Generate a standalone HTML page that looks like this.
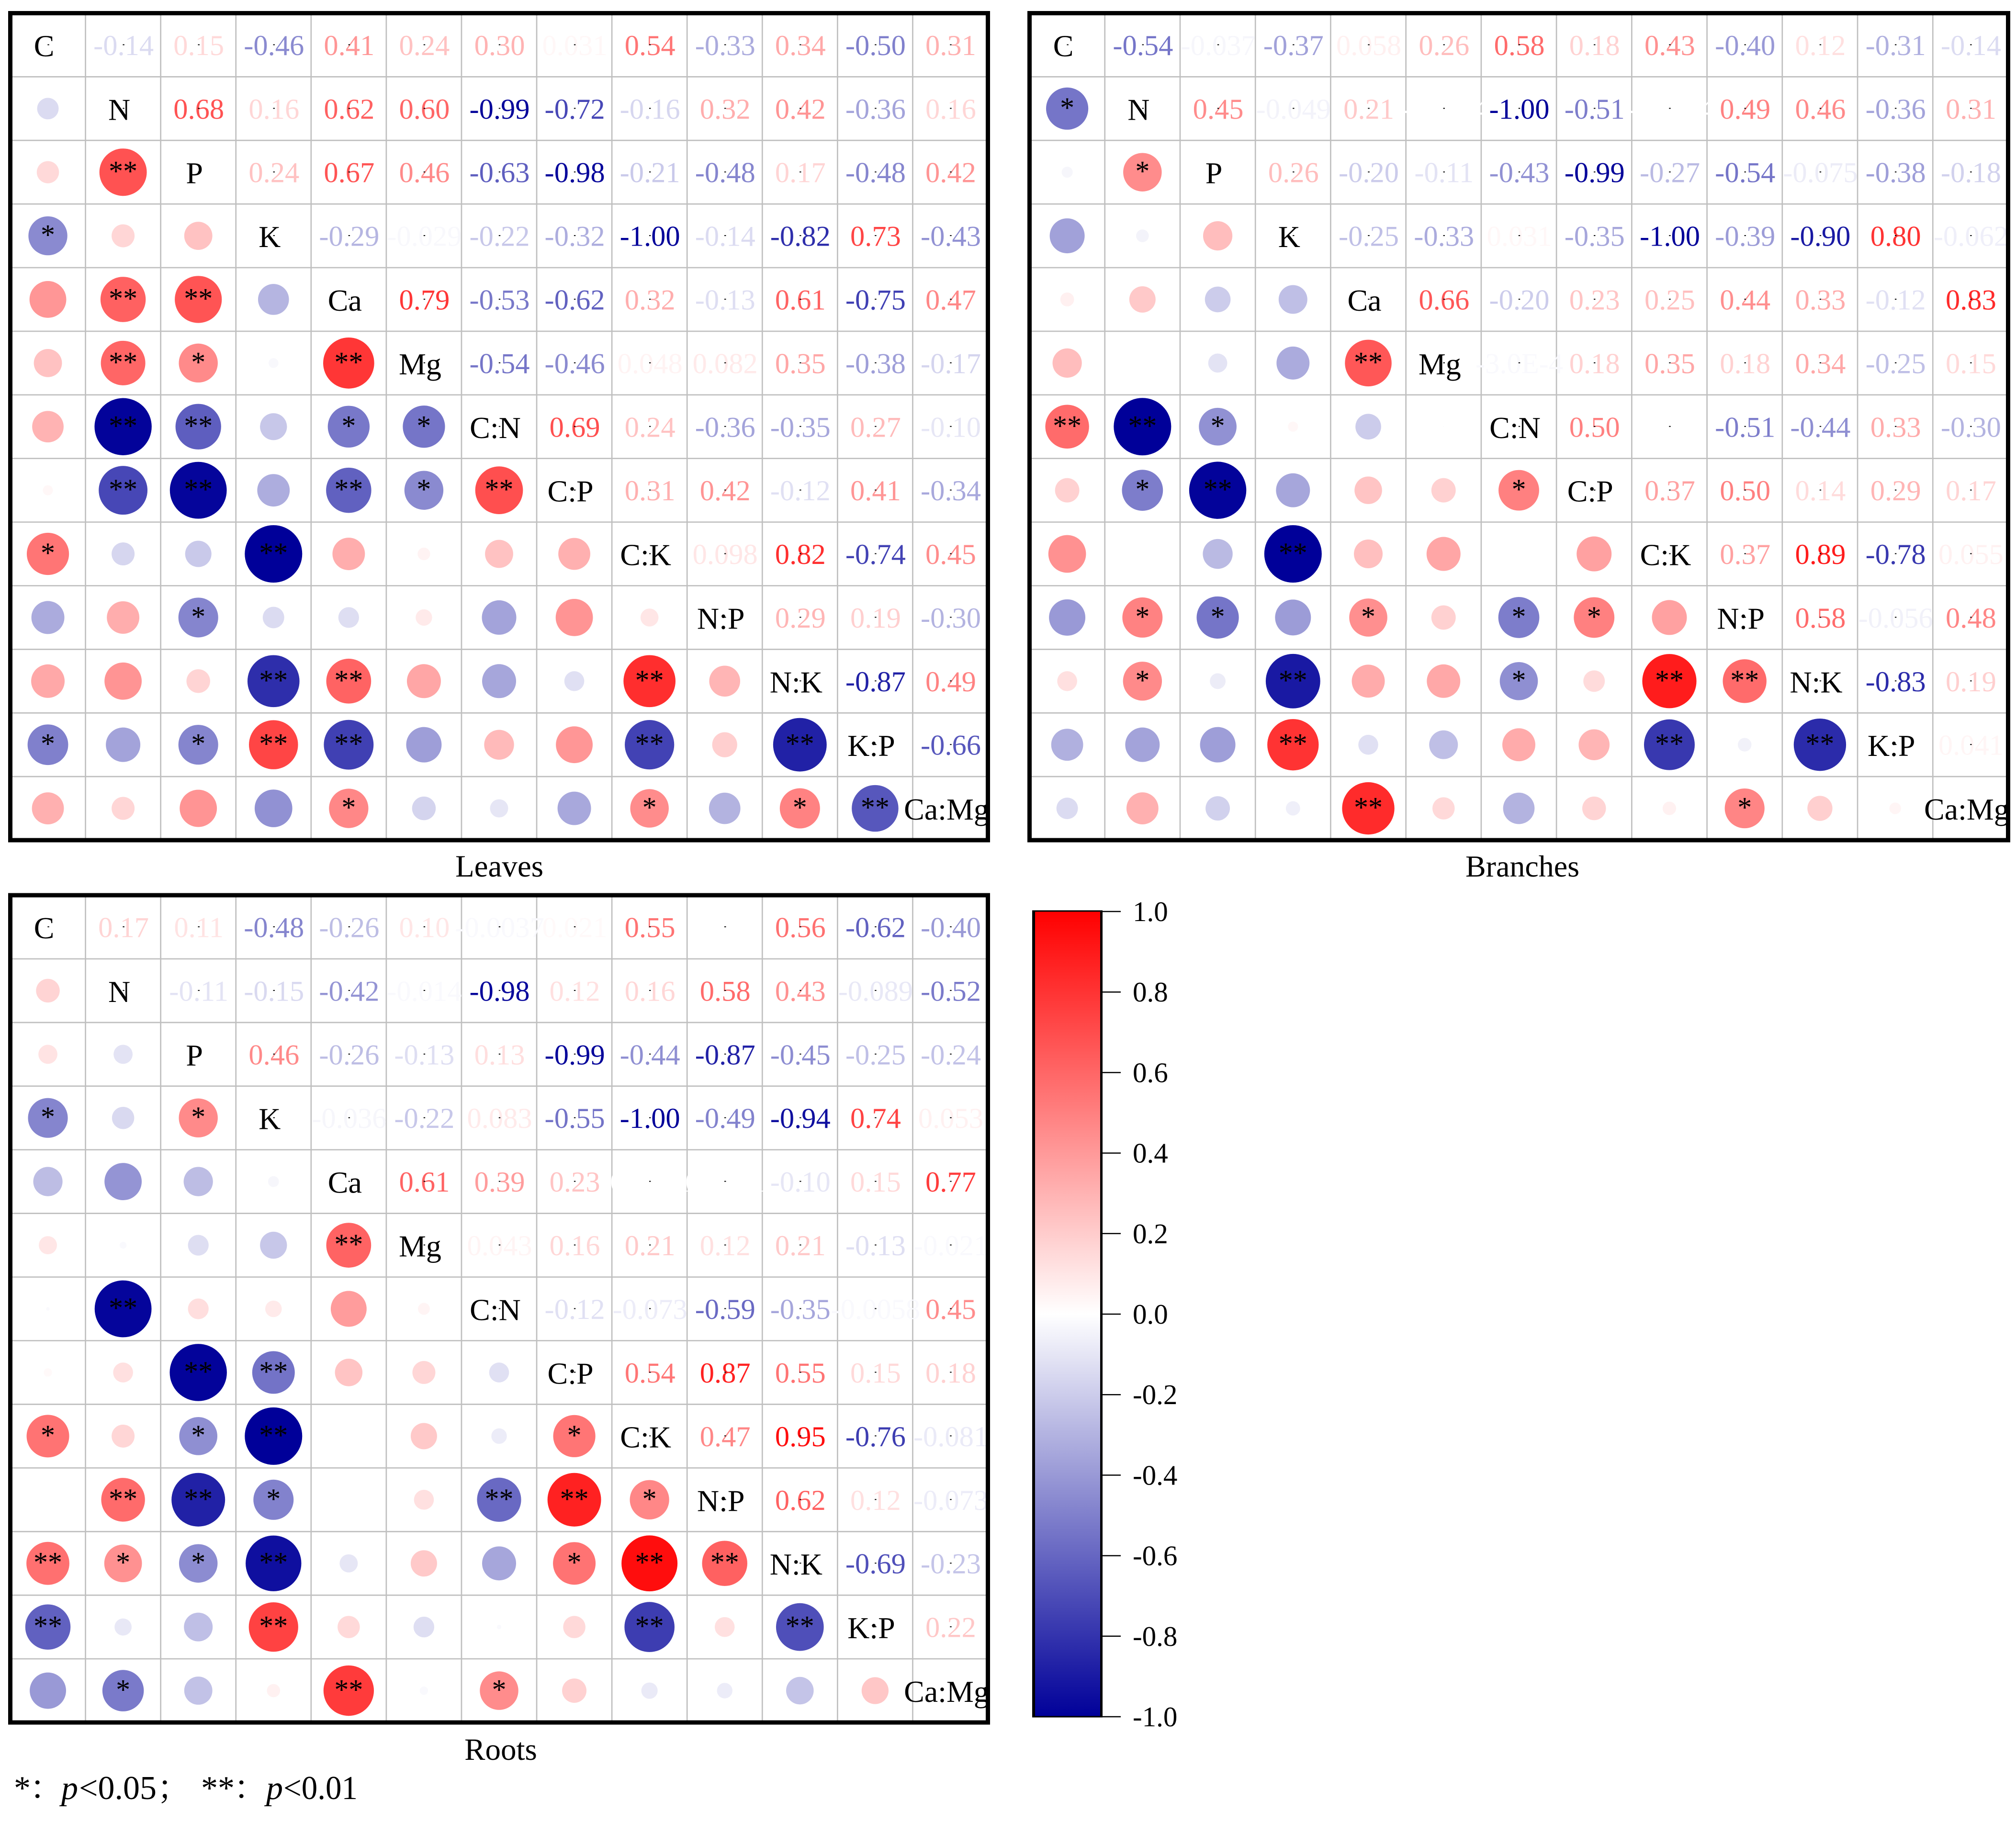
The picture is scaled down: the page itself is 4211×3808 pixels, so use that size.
<!DOCTYPE html>
<html lang="en">
<head>
<meta charset="utf-8">
<title>Correlation matrices of leaves, branches and roots</title>
<style>
html,body{margin:0;padding:0;background:#fff;}
svg{display:block;font-family:"Liberation Serif","Noto Serif CJK SC",serif;}
</style>
</head>
<body>
<svg id="chart" xmlns="http://www.w3.org/2000/svg" width="4211" height="3808" viewBox="0 0 4211 3808">
  <defs>
    <linearGradient id="cbGrad" x1="0" y1="0" x2="0" y2="1"></linearGradient>
  </defs>
  <rect x="0" y="0" width="4211" height="3808" fill="#fff"/>
  <g id="leaves-panel"></g>
  <g id="branches-panel"></g>
  <g id="roots-panel"></g>
  <g id="colorbar"></g>
  <text x="1043" y="1831" font-size="65" text-anchor="middle" fill="#000">Leaves</text>
  <text x="3180" y="1831" font-size="64" text-anchor="middle" fill="#000">Branches</text>
  <text x="1046" y="3676" font-size="65" text-anchor="middle" fill="#000">Roots</text>
  <g font-size="70" fill="#000">
    <text x="29" y="3758">*</text>
    <text x="62" y="3758">：</text>
    <text x="128" y="3758" font-style="italic">p</text>
    <text x="165" y="3758" textLength="162" lengthAdjust="spacingAndGlyphs">&lt;0.05</text>
    <text x="328" y="3758">；</text>
    <text x="420" y="3758">**</text>
    <text x="488" y="3758">：</text>
    <text x="556" y="3758" font-style="italic">p</text>
    <text x="592" y="3758" textLength="155" lengthAdjust="spacingAndGlyphs">&lt;0.01</text>
  </g>
</svg>
<script>
// ---- Data: variable labels ----
var labels = ["C","N","P","K","Ca","Mg","C:N","C:P","C:K","N:P","N:K","K:P","Ca:Mg"];

// ---- Data: upper-triangle correlation coefficients, row by row ----
var leavesValues = [
  ["-0.14","0.15","-0.46","0.41","0.24","0.30","0.031","0.54","-0.33","0.34","-0.50","0.31"],
  ["0.68","0.16","0.62","0.60","-0.99","-0.72","-0.16","0.32","0.42","-0.36","0.16"],
  ["0.24","0.67","0.46","-0.63","-0.98","-0.21","-0.48","0.17","-0.48","0.42"],
  ["-0.29","-0.029","-0.22","-0.32","-1.00","-0.14","-0.82","0.73","-0.43"],
  ["0.79","-0.53","-0.62","0.32","-0.13","0.61","-0.75","0.47"],
  ["-0.54","-0.46","0.048","0.082","0.35","-0.38","-0.17"],
  ["0.69","0.24","-0.36","-0.35","0.27","-0.10"],
  ["0.31","0.42","-0.12","0.41","-0.34"],
  ["0.098","0.82","-0.74","0.45"],
  ["0.29","0.19","-0.30"],
  ["-0.87","0.49"],
  ["-0.66"]
];
var branchesValues = [
  ["-0.54","-0.037","-0.37","0.058","0.26","0.58","0.18","0.43","-0.40","0.12","-0.31","-0.14"],
  ["0.45","-0.049","0.21","-1.0E-4","-1.00","-0.51","-1.0E-4","0.49","0.46","-0.36","0.31"],
  ["0.26","-0.20","-0.11","-0.43","-0.99","-0.27","-0.54","-0.075","-0.38","-0.18"],
  ["-0.25","-0.33","0.031","-0.35","-1.00","-0.39","-0.90","0.80","-0.062"],
  ["0.66","-0.20","0.23","0.25","0.44","0.33","-0.12","0.83"],
  ["-3.0E-4","0.18","0.35","0.18","0.34","-0.25","0.15"],
  ["0.50","0.00","-0.51","-0.44","0.33","-0.30"],
  ["0.37","0.50","0.14","0.29","0.17"],
  ["0.37","0.89","-0.78","0.055"],
  ["0.58","-0.056","0.48"],
  ["-0.83","0.19"],
  ["0.041"]
];
var rootsValues = [
  ["0.17","0.11","-0.48","-0.26","0.10","-0.0037","0.021","0.55","0.00","0.56","-0.62","-0.40"],
  ["-0.11","-0.15","-0.42","-0.014","-0.98","0.12","0.16","0.58","0.43","-0.089","-0.52"],
  ["0.46","-0.26","-0.13","0.13","-0.99","-0.44","-0.87","-0.45","-0.25","-0.24"],
  ["-0.036","-0.22","0.083","-0.55","-1.00","-0.49","-0.94","0.74","0.053"],
  ["0.61","0.39","0.23","0.0001","0.0001","-0.10","0.15","0.77"],
  ["0.043","0.16","0.21","0.12","0.21","-0.13","-0.021"],
  ["-0.12","-0.073","-0.59","-0.35","-0.0058","0.45"],
  ["0.54","0.87","0.55","0.15","0.18"],
  ["0.47","0.95","-0.76","-0.081"],
  ["0.62","0.12","-0.073"],
  ["-0.69","-0.23"],
  ["0.22"]
];

// ---- Data: lower-triangle significance level (0 none, 1 p<0.05, 2 p<0.01), row by row ----
var leavesStars = [
  [],[0],[0,2],[1,0,0],[0,2,2,0],[0,2,1,0,2],[0,2,2,0,1,1],[0,2,2,0,2,1,2],
  [1,0,0,2,0,0,0,0],[0,0,1,0,0,0,0,0,0],[0,0,0,2,2,0,0,0,2,0],
  [1,0,1,2,2,0,0,0,2,0,2],[0,0,0,0,1,0,0,0,1,0,1,2]
];
var branchesStars = [
  [],[1],[0,1],[0,0,0],[0,0,0,0],[0,0,0,0,2],[2,2,1,0,0,0],[0,1,2,0,0,0,1],
  [0,0,0,2,0,0,0,0],[0,1,1,0,1,0,1,1,0],[0,1,0,2,0,0,1,0,2,2],
  [0,0,0,2,0,0,0,0,2,0,2],[0,0,0,0,2,0,0,0,0,1,0,0]
];
var rootsStars = [
  [],[0],[0,0],[1,0,1],[0,0,0,0],[0,0,0,0,2],[0,2,0,0,0,0],[0,0,2,2,0,0,0],
  [1,0,1,2,0,0,0,1],[0,2,2,1,0,0,2,2,1],[2,1,1,2,0,0,0,1,2,2],
  [2,0,0,2,0,0,0,0,2,0,2],[0,1,0,0,2,0,1,0,0,0,0,0]
];

// ---- Data: colour bar ticks ----
var colorbarTicks = [1.0,0.8,0.6,0.4,0.2,0.0,-0.2,-0.4,-0.6,-0.8,-1.0];

// ---- Helpers ----
var NS = "http://www.w3.org/2000/svg";
function make(tag, parent, attrs, text) {
  var el = document.createElementNS(NS, tag);
  for (var k in attrs) { el.setAttribute(k, attrs[k]); }
  if (text !== undefined) { el.textContent = text; }
  parent.appendChild(el);
  return el;
}
function valueColor(r) {
  var t = Math.min(1, Math.abs(r));
  // tiny non-zero values sit one colour step away from pure white
  if (t >= 0.0002 && t < 0.022) { t = 0.022; } else if (t < 0.0002) { t = 0; }
  var c = Math.round(255 * (1 - t));
  if (r >= 0) { return "rgb(255," + c + "," + c + ")"; }
  var b = Math.round(255 - t * 102);
  return "rgb(" + c + "," + c + "," + b + ")";
}
function circleRadius(r) {
  return 60 * Math.sqrt(Math.abs(r));
}

// ---- Panels ----
function drawPanel(group, left, top, right, bottom, values, stars) {
  var n = labels.length;
  var cw = (right - left) / n;
  var ch = (bottom - top) / n;
  function xAxis(col) { return left + (col + 0.5) * cw; }
  function yAxis(row) { return top + (row + 0.5) * ch; }

  for (var g = 1; g < n; g++) {
    var vLine = make("line", group, {x1: left + g * cw, x2: left + g * cw, y1: top, y2: bottom, stroke: "#bfbfbf", "stroke-width": 2.7});
    
    
    var hLine = make("line", group, {x1: left, x2: right, y1: top + g * ch, y2: top + g * ch, stroke: "#bfbfbf", "stroke-width": 2.7});
    
    
  }

  for (var row = 0; row < n; row++) {
    for (var col = 0; col < n; col++) {
      var cx = xAxis(col), cy = yAxis(row);
      if (col === row) {
        var lab = make("text", group, {x: cx - 8, y: cy + 23.5, "font-size": 64, "text-anchor": "middle", fill: "#000"}, labels[row]);
        
        
      } else if (col > row) {
        var str = values[row][col - row - 1];
        var val = parseFloat(str);
        var txt = make("text", group, {x: cx + 1, y: cy + 21, "font-size": 60.5, "text-anchor": "middle", fill: valueColor(val)}, str);
        
        
      } else {
        var v = parseFloat(values[col][row - col - 1]);
        var dot = make("circle", group, {cx: cx, cy: cy, r: circleRadius(v), fill: valueColor(v)});
        
        
        var level = stars[row][col];
        if (level > 0) {
          var st = make("text", group, {x: cx, y: cy + 18, "font-size": 60, "text-anchor": "middle", fill: "#000"}, level === 2 ? "**" : "*");
          
          
        }
      }
      if (col >= row) {
        var mark = make("rect", group, {x: cx - 0.7, y: cy - 1.5, width: 3.4, height: 2, fill: "#000"});
        
        
      }
    }
  }

  var frame = make("rect", group, {x: left, y: top, width: right - left, height: bottom - top, fill: "none", stroke: "#000", "stroke-width": 9});
  
  
}

drawPanel(document.getElementById("leaves-panel"), 21.5, 27.5, 2063.5, 1755, leavesValues, leavesStars);
drawPanel(document.getElementById("branches-panel"), 2150.5, 27.5, 4194.5, 1755, branchesValues, branchesStars);
drawPanel(document.getElementById("roots-panel"), 21.5, 1870, 2063.5, 3598, rootsValues, rootsStars);

// ---- Colour bar ----
(function () {
  var group = document.getElementById("colorbar");
  var grad = document.getElementById("cbGrad");
  var yTop = 1904, yBottom = 3586;
  function cbY(v) { return yTop + (1 - v) / 2 * (yBottom - yTop); }

  colorbarTicks.forEach(function (t) {
    var stop = document.createElementNS(NS, "stop");
    stop.setAttribute("offset", ((1 - t) / 2 * 100) + "%");
    stop.setAttribute("stop-color", valueColor(t));
    grad.appendChild(stop);
  });

  var bar = make("rect", group, {x: 2159, y: yTop - 1, width: 142, height: yBottom - yTop + 2, fill: "url(#cbGrad)", stroke: "none"});
  
  

  var edge = make("path", group, {d: "M2156 1903H2303M2156 3586H2303", stroke: "#000", "stroke-width": 3, fill: "none"});
  
  
  var sideL = make("rect", group, {x: 2156, y: 1902, width: 6, height: 1685, fill: "#000"});
  
  
  var sideR = make("rect", group, {x: 2298, y: 1902, width: 5, height: 1685, fill: "#000"});
  
  

  colorbarTicks.forEach(function (t) {
    var y = cbY(t);
    var tick = make("line", group, {x1: 2303, x2: 2341, y1: y, y2: y, stroke: "#000", "stroke-width": 2.5});
    
    
    var lbl = make("text", group, {x: 2366, y: y + 20, "font-size": 59, fill: "#000"}, t.toFixed(1));
    
    
  });
})();
</script>
</body>
</html>
